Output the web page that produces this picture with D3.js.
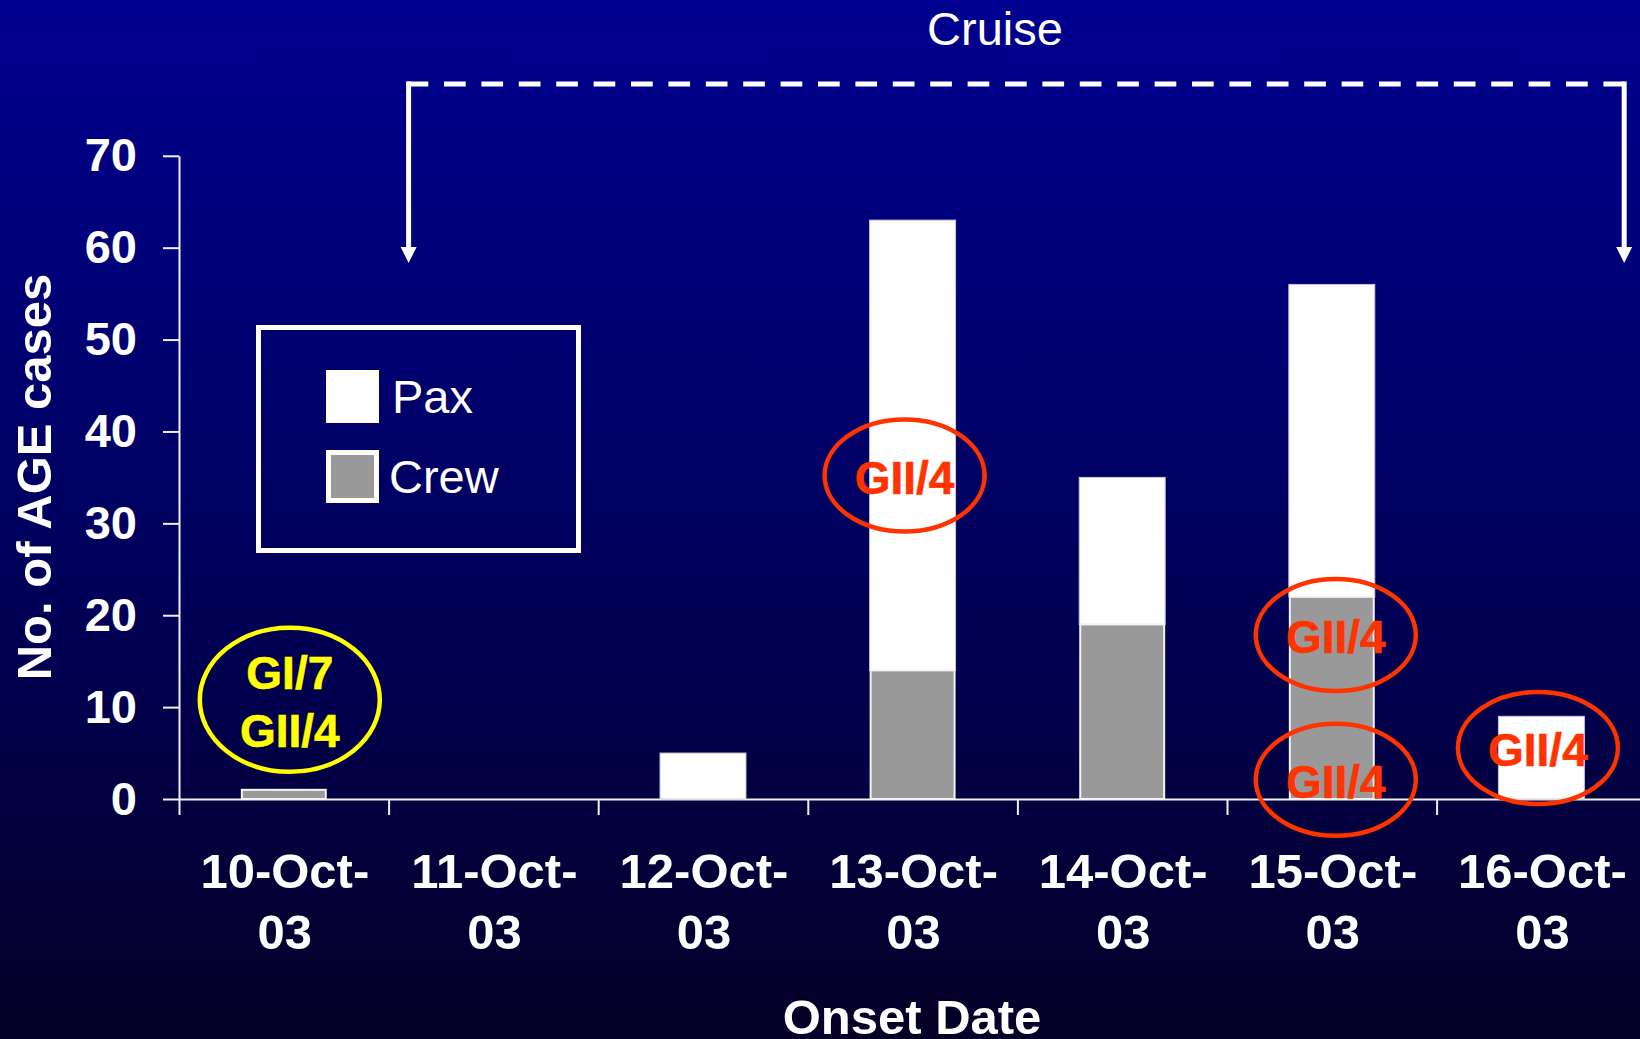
<!DOCTYPE html>
<html>
<head>
<meta charset="utf-8">
<script src="https://cdn.jsdelivr.net/npm/d3@7"></script>
<style>
  html, body { margin: 0; padding: 0; background: #000040; }
  svg { display: block; }
  text { font-family: "Liberation Sans", Arial, sans-serif; }
</style>
</head>
<body>
<script>
// ---------- data ----------
const categories = ["10-Oct-03", "11-Oct-03", "12-Oct-03", "13-Oct-03", "14-Oct-03", "15-Oct-03", "16-Oct-03"];
const catLine1 = ["10-Oct-", "11-Oct-", "12-Oct-", "13-Oct-", "14-Oct-", "15-Oct-", "16-Oct-"];
const catLine2 = ["03", "03", "03", "03", "03", "03", "03"];
const crew = [1, 0, 0, 14, 19, 22, 0];
const pax  = [0, 0, 5, 49, 16, 34, 9];
const yTicks = [0, 10, 20, 30, 40, 50, 60, 70];
const seriesNames = ["Pax", "Crew"];
// annotations: category, value-level centre, text lines, colour
const annCats   = ["10-Oct-03", "13-Oct-03", "15-Oct-03", "15-Oct-03", "16-Oct-03"];
const annLevels = [10.8, 35.2, 17.85, 2.1, 5.55];
const annTexts  = [["GI/7", "GII/4"], ["GII/4"], ["GII/4"], ["GII/4"], ["GII/4"]];
const annKinds  = ["yellow", "red", "red", "red", "red"];
const cruiseLabel = "Cruise";
const cruiseFrom = "11-Oct-03";
const xTitle = "Onset Date";
const yTitle = "No. of AGE cases";

// ---------- layout ----------
const W = 1640, H = 1039;
const x0 = 179, y0 = 799, yTop = 155.8;
const svg = d3.select("body").append("svg").attr("width", W).attr("height", H);

const defs = svg.append("defs");
const grad = defs.append("linearGradient").attr("id", "bg").attr("x1", 0).attr("y1", 0).attr("x2", 0).attr("y2", 1);
grad.append("stop").attr("offset", "0%").attr("stop-color", "#000090");
grad.append("stop").attr("offset", "48%").attr("stop-color", "#000062");
grad.append("stop").attr("offset", "100%").attr("stop-color", "#050026");
svg.append("rect").attr("width", W).attr("height", H).attr("fill", "url(#bg)");

const x = d3.scaleBand().domain(categories).range([x0, x0 + 7 * 209.6]).paddingInner(0.59).paddingOuter(0.295);
const xEdge = d3.scaleLinear().domain([0, categories.length]).range([x0, x0 + 7 * 209.6]);
const y = d3.scaleLinear().domain([0, 70]).range([y0, yTop]);

// ---------- axes ----------
const yAxis = svg.append("g").attr("transform", `translate(${x0},0)`)
  .call(d3.axisLeft(y).tickValues(yTicks).tickSize(16).tickPadding(26).tickSizeOuter(0));
yAxis.select(".domain").attr("stroke", "#f0f0f0").attr("stroke-width", 2);
yAxis.selectAll(".tick line").attr("stroke", "#f0f0f0").attr("stroke-width", 2);
yAxis.selectAll(".tick text").attr("fill", "#fff").attr("font-size", 47).attr("font-weight", "bold")
  .attr("font-family", "'Liberation Sans', Arial, sans-serif");

const xAxis = svg.append("g").attr("transform", `translate(0,${y0})`)
  .call(d3.axisBottom(xEdge).tickValues(d3.range(categories.length + 1)).tickSize(16).tickFormat("").tickSizeOuter(0));
xAxis.select(".domain").attr("stroke", "#f0f0f0").attr("stroke-width", 2);
xAxis.selectAll(".tick line").attr("stroke", "#f0f0f0").attr("stroke-width", 2);

// category labels (two lines)
const lab = svg.append("g");
categories.forEach((c, i) => {
  const cx = x(c) + x.bandwidth() / 2 + 1;
  lab.append("text").attr("x", cx).attr("y", 888).attr("text-anchor", "middle")
    .attr("fill", "#fff").attr("font-size", 49).attr("font-weight", "bold").text(catLine1[i]);
  lab.append("text").attr("x", cx).attr("y", 949).attr("text-anchor", "middle")
    .attr("fill", "#fff").attr("font-size", 49).attr("font-weight", "bold").text(catLine2[i]);
});

// titles
svg.append("text").attr("x", 912).attr("y", 1034).attr("text-anchor", "middle")
  .attr("fill", "#fff").attr("font-size", 49).attr("font-weight", "bold").text(xTitle);
svg.append("text").attr("transform", "translate(51,477) rotate(-90)").attr("text-anchor", "middle")
  .attr("fill", "#fff").attr("font-size", 49).attr("font-weight", "bold").text(yTitle);

// ---------- bars ----------
const bars = svg.append("g");
categories.forEach((c, i) => {
  if (pax[i] > 0) {
    bars.append("rect").attr("x", x(c)).attr("width", x.bandwidth())
      .attr("y", y(crew[i] + pax[i])).attr("height", y(crew[i]) - y(crew[i] + pax[i]))
      .attr("fill", "#ffffff").attr("stroke", "#c8c8dc").attr("stroke-width", 1);
  }
  if (crew[i] > 0) {
    bars.append("rect").attr("x", x(c) + 1).attr("width", x.bandwidth() - 2)
      .attr("y", y(crew[i])).attr("height", y(0) - y(crew[i]))
      .attr("fill", "#999999").attr("stroke", "#f4f4f4").attr("stroke-width", 2);
  }
});

// ---------- legend ----------
const lg = svg.append("g");
lg.append("rect").attr("x", 258.5).attr("y", 327.5).attr("width", 320).attr("height", 223)
  .attr("fill", "none").attr("stroke", "#fff").attr("stroke-width", 5);
lg.append("rect").attr("x", 326).attr("y", 370).attr("width", 53).attr("height", 53).attr("fill", "#fff");
lg.append("rect").attr("x", 326).attr("y", 450).attr("width", 53).attr("height", 53).attr("fill", "#fff");
lg.append("rect").attr("x", 331).attr("y", 455).attr("width", 43).attr("height", 43).attr("fill", "#999999");
lg.append("text").attr("x", 392).attr("y", 413).attr("fill", "#fff").attr("font-size", 47).text(seriesNames[0]);
lg.append("text").attr("x", 389).attr("y", 493).attr("fill", "#fff").attr("font-size", 47).text(seriesNames[1]);

// ---------- annotations ----------
const ann = svg.append("g");
const annDx = [6, -8, 4, 4, -3.5];
annCats.forEach((c, i) => {
  const isY = annKinds[i] === "yellow";
  const col = isY ? "#ffff00" : "#ff3300";
  const cx = x(c) + x.bandwidth() / 2 + annDx[i];
  const cy = y(annLevels[i]);
  ann.append("ellipse").attr("cx", cx).attr("cy", cy)
    .attr("rx", isY ? 90 : 80).attr("ry", isY ? 72 : 56)
    .attr("fill", "none").attr("stroke", col).attr("stroke-width", 4.5);
  annTexts[i].forEach((t, k) => {
    const by = isY ? cy - 11 + k * 58 : cy + 18;
    ann.append("text").attr("x", cx).attr("y", by).attr("text-anchor", "middle")
      .attr("fill", col).attr("font-size", 46).attr("font-weight", "bold")
      .attr("stroke", col).attr("stroke-width", 0.6).text(t);
  });
});

// ---------- cruise bracket ----------
const cr = svg.append("g");
const bx1 = xEdge(categories.indexOf(cruiseFrom)) + 20;
const bx2 = xEdge(categories.length) - 22;
const by = 84, tipY = 263;
cr.append("line").attr("x1", bx1 - 2).attr("x2", bx2 + 3).attr("y1", by).attr("y2", by)
  .attr("stroke", "#fff").attr("stroke-width", 5).attr("stroke-dasharray", "21.7 15.7");
[bx1, bx2].forEach(bx => {
  cr.append("line").attr("x1", bx).attr("x2", bx).attr("y1", by - 2.5).attr("y2", tipY - 14)
    .attr("stroke", "#fff").attr("stroke-width", 5);
  cr.append("path").attr("d", `M${bx - 8},${tipY - 16} L${bx + 8},${tipY - 16} L${bx},${tipY} Z`).attr("fill", "#fff");
});
cr.append("text").attr("x", 995).attr("y", 45).attr("text-anchor", "middle")
  .attr("fill", "#fff").attr("font-size", 47).text(cruiseLabel);
</script>
</body>
</html>
